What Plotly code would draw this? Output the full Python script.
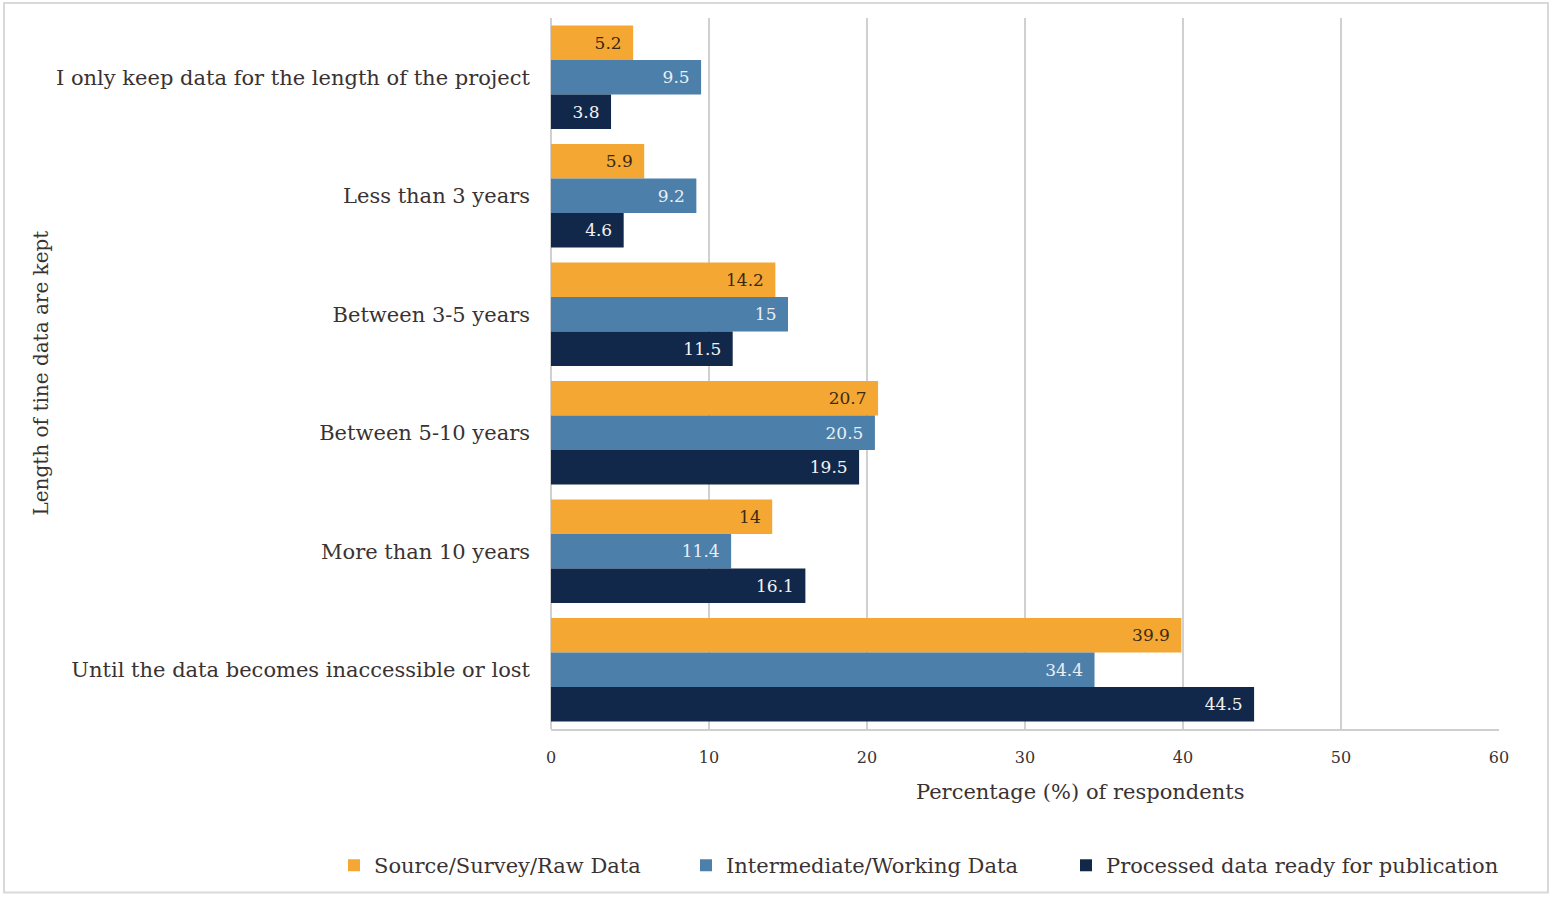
import plotly.graph_objects as go

categories = [
    "I only keep data for the length of the project",
    "Less than 3 years",
    "Between 3-5 years",
    "Between 5-10 years",
    "More than 10 years",
    "Until the data becomes inaccessible or lost",
]
source_raw = [5.2, 5.9, 14.2, 20.7, 14, 39.9]
intermediate = [9.5, 9.2, 15, 20.5, 11.4, 34.4]
processed = [3.8, 4.6, 11.5, 19.5, 16.1, 44.5]

series = [
    ("Source/Survey/Raw Data", source_raw, "#F5A733", "#3a2a12", "legend"),
    ("Intermediate/Working Data", intermediate, "#4C7FA9", "#e8eef4", "legend2"),
    ("Processed data ready for publication", processed, "#12284A", "#f2f2f2", "legend3"),
]

FONT = "DejaVu Serif"
TEXT = "#3a3232"

# plot area in pixels, used to place paper-referenced items
L, R, T, B = 551, 52, 18, 167
PW, PH = 1551 - L - R, 898 - T - B


def px_x(x):
    return (x - L) / PW


def px_y(y):
    return (898 - B - y) / PH


fig = go.Figure()
for name, vals, color, tcolor, leg in series:
    fig.add_trace(go.Bar(
        name=name,
        y=categories,
        x=vals,
        orientation="h",
        marker=dict(color=color, line=dict(width=0)),
        text=[f"{v:g}\u2002" for v in vals],
        textposition="inside",
        insidetextanchor="end",
        textangle=0,
        textfont=dict(family=FONT, size=17, color=tcolor),
        cliponaxis=False,
        legend=leg,
        showlegend=True,
    ))

legend_style = dict(
    orientation="h",
    yanchor="middle",
    y=px_y(868),
    font=dict(family=FONT, size=21, color=TEXT),
    bgcolor="rgba(0,0,0,0)",
    itemwidth=30,
)

fig.update_layout(
    showlegend=True,
    barmode="group",
    bargap=0.125,
    bargroupgap=0,
    width=1551,
    height=898,
    margin=dict(l=L, r=R, t=T, b=B),
    paper_bgcolor="white",
    plot_bgcolor="white",
    font=dict(family=FONT, color=TEXT),
    uniformtext=dict(mode=False),
    legend=dict(legend_style, x=px_x(334), xanchor="left"),
    legend2=dict(legend_style, x=px_x(686), xanchor="left"),
    legend3=dict(legend_style, x=px_x(1066), xanchor="left"),
    shapes=[dict(
        type="rect", xref="paper", yref="paper",
        x0=px_x(4), x1=px_x(1548), y0=px_y(895), y1=px_y(3),
        line=dict(color="#d9d9d9", width=2), fillcolor="rgba(0,0,0,0)",
        layer="below",
    )],
    annotations=[
        dict(text="Percentage (%) of respondents", xref="paper", yref="paper",
             x=px_x(1080), y=px_y(794), xanchor="center", yanchor="middle",
             showarrow=False, font=dict(family=FONT, size=21, color=TEXT)),
        dict(text="Length of tine data are kept", xref="paper", yref="paper",
             x=px_x(40), y=0.5, xanchor="center", yanchor="middle",
             textangle=-90, showarrow=False,
             font=dict(family=FONT, size=20, color=TEXT)),
    ],
)

fig.update_xaxes(
    range=[0, 60],
    dtick=10,
    showgrid=True,
    gridcolor="#d0d0d0",
    gridwidth=1.5,
    zeroline=True,
    zerolinecolor="#d0d0d0",
    showline=True,
    linecolor="#cfcfcf",
    linewidth=2,
    ticks="",
    tickfont=dict(family=FONT, size=16, color=TEXT),
    ticklabelstandoff=13,
)
fig.update_yaxes(
    autorange="reversed",
    showgrid=False,
    ticks="",
    tickfont=dict(family=FONT, size=21, color=TEXT),
    ticklabelstandoff=20,
)

fig.write_html("out.html")
